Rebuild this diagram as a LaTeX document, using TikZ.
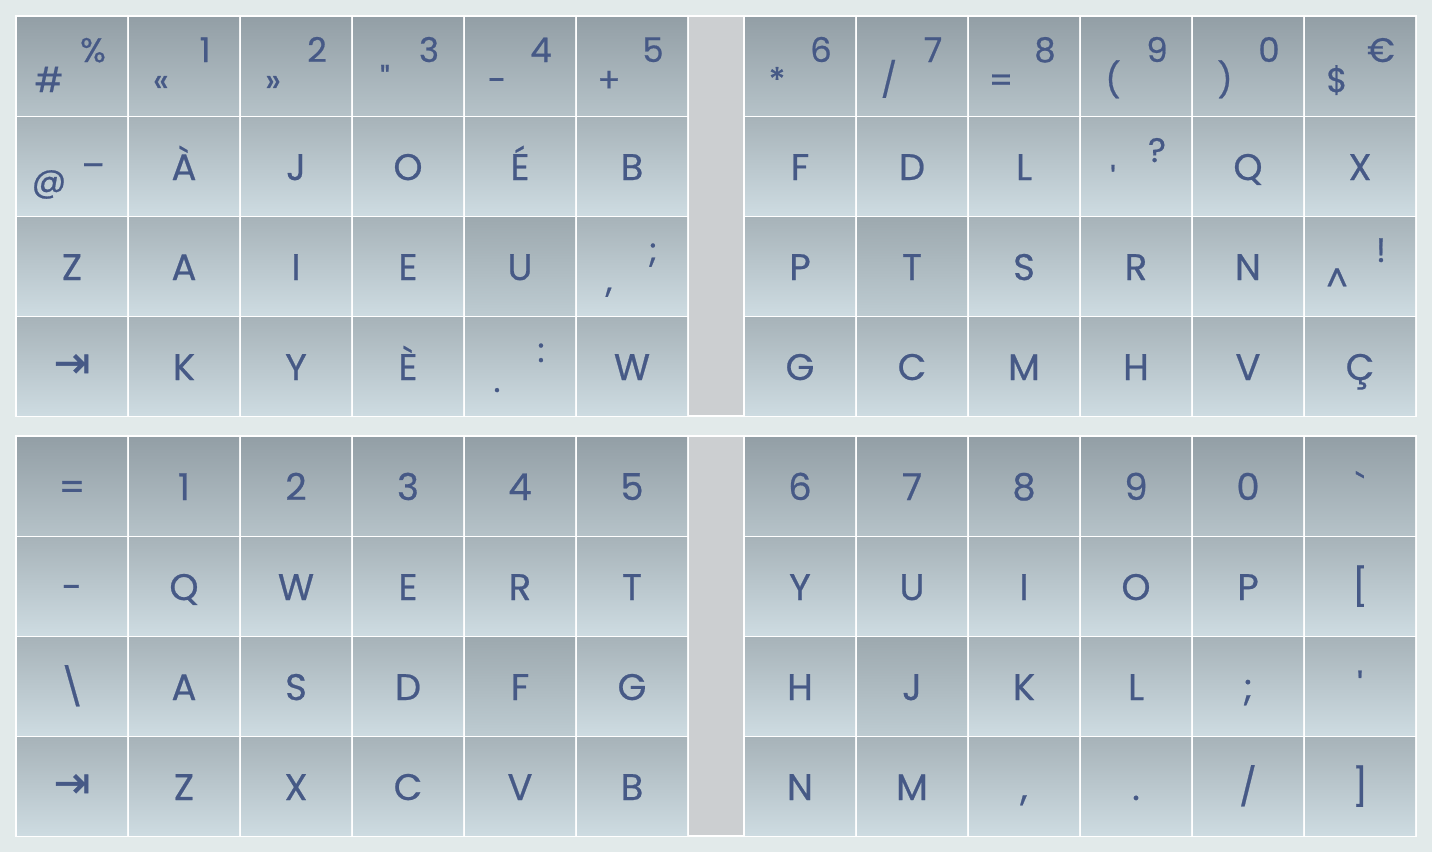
\documentclass[tikz,border=0pt]{standalone}
\usepackage{fontspec}
\newfontfamily\keyfont{Poppins}[FakeBold=0.6]
\newfontfamily\symfont{DejaVu Sans}[FakeBold=0.8]
\definecolor{Backdrop}{HTML}{E2EAEA}
\definecolor{Gap}{HTML}{CCCFD1}
\definecolor{Ink}{HTML}{465986}
\definecolor{KeyTop}{HTML}{A7B3B9}
\definecolor{KeyBot}{HTML}{CDDBE1}
\definecolor{NumTop}{HTML}{939FA6}
\definecolor{NumBot}{HTML}{B5C2C8}
\definecolor{HomeTop}{HTML}{9DA9AF}
\definecolor{HomeBot}{HTML}{BDCBD1}
\tikzset{
 keycap/.style={rectangle,draw=none,inner sep=0pt,minimum width=110pt,minimum height=98pt,top color=KeyTop,bottom color=KeyBot},
 numkey/.style={keycap,top color=NumTop,bottom color=NumBot},
 homekey/.style={keycap,top color=HomeTop,bottom color=HomeBot},
 glyph/.style={font=\keyfont\fontsize{37}{40}\selectfont,text=Ink,inner sep=0pt,anchor=base,yshift=-14pt},
 hi/.style={glyph,font=\keyfont\fontsize{34}{36}\selectfont,xshift=21pt,yshift=18pt},
 lo/.style={glyph,font=\keyfont\fontsize{34}{36}\selectfont,xshift=-23pt,yshift=-12pt},
 tab/.style={font=\symfont\fontsize{44}{44}\selectfont,text=Ink,inner sep=0pt}
}
\begin{document}
\begin{tikzpicture}[x=1pt,y=-1pt]
\fill[Backdrop] (0,0) rectangle (1432,852);
\useasboundingbox (0,0) rectangle (1432,852);
% two blocks of keys
\foreach \b/\oy in {1/0,2/420} {
  \fill[white] (15,15+\oy) rectangle (1417,417+\oy);
  \fill[Gap] (689,17+\oy) rectangle (743,415+\oy);
  \foreach \r in {1,...,4}
    \foreach \c in {1,...,12} {
      \pgfmathsetmacro\kx{\c<7 ? 72+112*(\c-1) : 800+112*(\c-7)}
      \pgfmathsetmacro\ky{66+100*(\r-1)+\oy}
      \pgfmathtruncatemacro\home{(\r==3)&&((\c==5)||(\c==8))}
      \def\kind{keycap}
      \ifnum\r=1 \def\kind{numkey}\fi
      \ifnum\home=1 \def\kind{homekey}\fi
      \node[\kind] (k\b-\r-\c) at (\kx,\ky) {};
    }
}
% upper block
\foreach \t [count=\c] in {\%,1,2,3,4,5,6,7,8,9,0,€} \node[hi] at (k1-1-\c) {\t};
\foreach \t [count=\c] in {\#,«,»,",-,+,*,/,=,{(},{)},\$} \node[lo] at (k1-1-\c) {\t};
\foreach \c/\t in {2/À,3/J,4/O,5/É,6/B,7/F,8/D,9/L,11/Q,12/X} \node[glyph] at (k1-2-\c) {\t};
\node[lo] at (k1-2-1) {@};
\node[hi] at (k1-2-1) {\_};
\node[lo] at (k1-2-10) {'};
\node[hi] at (k1-2-10) {?};
\foreach \c/\t in {1/Z,2/A,3/I,4/E,5/U,7/P,8/T,9/S,10/R,11/N} \node[glyph] at (k1-3-\c) {\t};
\node[lo] at (k1-3-6) {,};
\node[hi] at (k1-3-6) {;};
\node[lo] at (k1-3-12) {\textasciicircum};
\node[hi] at (k1-3-12) {!};
\node[tab] at (k1-4-1) {⇥};
\foreach \c/\t in {2/K,3/Y,4/È,6/W,7/G,8/C,9/M,10/H,11/V,12/Ç} \node[glyph] at (k1-4-\c) {\t};
\node[lo] at (k1-4-5) {.};
\node[hi] at (k1-4-5) {:};
% lower block
\foreach \t [count=\c] in {=,1,2,3,4,5,6,7,8,9,0,`} \node[glyph] at (k2-1-\c) {\t};
\foreach \t [count=\c] in {-,Q,W,E,R,T,Y,U,I,O,P,{[}} \node[glyph] at (k2-2-\c) {\t};
\foreach \t [count=\c] in {\textbackslash,A,S,D,F,G,H,J,K,L,;,'} \node[glyph] at (k2-3-\c) {\t};
\node[tab] at (k2-4-1) {⇥};
\foreach \t [count=\c from 2] in {Z,X,C,V,B,N,M,{,},.,/,{]}} \node[glyph] at (k2-4-\c) {\t};
\end{tikzpicture}
\end{document}
